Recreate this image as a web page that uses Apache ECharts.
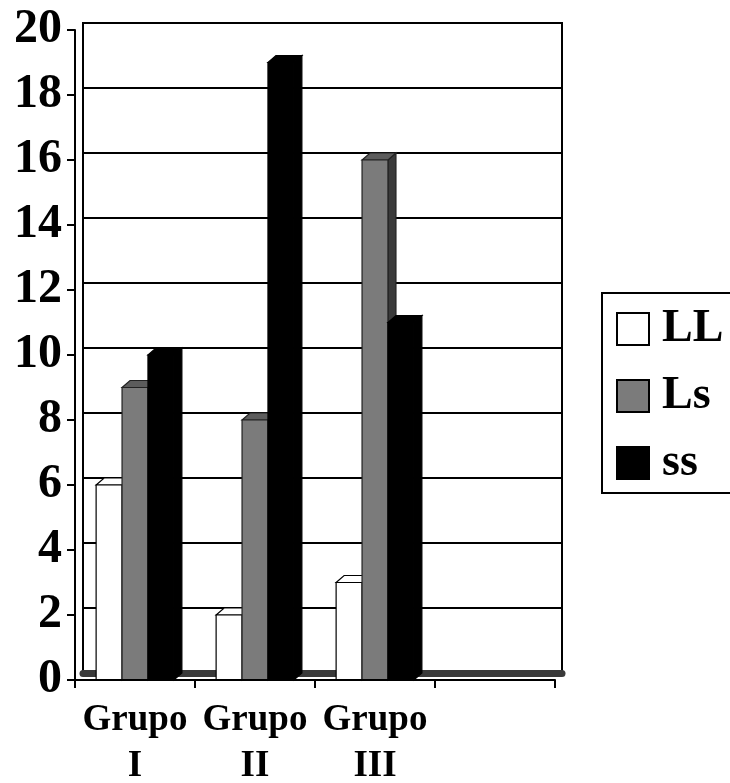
<!DOCTYPE html>
<html>
<head>
<meta charset="utf-8">
<style>
  html, body { margin: 0; padding: 0; background: #fff; }
  #chart { width: 730px; height: 783px; }
</style>
<script src="https://cdn.jsdelivr.net/npm/echarts@6/dist/echarts.min.js"></script>
</head>
<body>
<div id="chart"></div>
<script>
const categories = ['Grupo\nI', 'Grupo\nII', 'Grupo\nIII', ''];
const seriesNames = ['LL', 'Ls', 'ss'];
const valuesLL = [6, 2, 3, 0];
const valuesLs = [9, 8, 16, 0];
const valuesSs = [10, 19, 11, 0];
const yTicks = [0, 2, 4, 6, 8, 10, 12, 14, 16, 18, 20];

const FONT = 'Liberation Serif';
const DX = 8, DY = 7;

// face colours: front, top, side, stroke
const looks = [
  { front: '#ffffff', top: '#ffffff', side: '#ffffff', stroke: '#000' },
  { front: '#7b7b7b', top: '#5c5c5c', side: '#3a3a3a', stroke: '#222' },
  { front: '#000000', top: '#000000', side: '#000000', stroke: '#000' }
];

function makeBars(name, values, idx) {
  const look = looks[idx];
  return {
    name: name,
    type: 'custom',
    xAxisIndex: 0,
    yAxisIndex: 0,
    itemStyle: { color: look.front, borderColor: look.stroke },
    encode: { x: 0, y: 1 },
    data: values.map((v, i) => [i, v]),
    renderItem: function (params, api) {
      const v = api.value(1);
      if (!v) return;
      const base = api.coord([api.value(0), 0]);
      const topPt = api.coord([api.value(0), v]);
      const bw = api.size([1, 0])[0] * 0.216;
      const x0 = base[0] - 1.5 * bw + idx * bw;
      const x1 = x0 + bw;
      const yT = topPt[1], yB = base[1];
      const st = { stroke: look.stroke, lineWidth: 1.2 };
      return {
        type: 'group',
        children: [
          { type: 'polygon', shape: { points: [[x1, yT], [x1 + DX, yT - DY], [x1 + DX, yB - DY], [x1, yB]] },
            style: Object.assign({ fill: look.side }, st) },
          { type: 'polygon', shape: { points: [[x0, yT], [x0 + DX, yT - DY], [x1 + DX, yT - DY], [x1, yT]] },
            style: Object.assign({ fill: look.top }, st) },
          { type: 'rect', shape: { x: x0, y: yT, width: bw, height: yB - yT },
            style: Object.assign({ fill: look.front }, st) }
        ]
      };
    }
  };
}

const chart = echarts.init(document.getElementById('chart'));
chart.setOption({
  animation: false,
  backgroundColor: '#fff',
  grid: [
    { left: 75, right: 175, top: 30, bottom: 103, outerBoundsMode: 'none' },
    { left: 83, right: 168, top: 23, bottom: 110, outerBoundsMode: 'none', show: true, borderColor: '#000', borderWidth: 2, backgroundColor: 'transparent' }
  ],
  xAxis: [
    {
      type: 'category', gridIndex: 0, data: categories, z: 5,
      axisLine: { lineStyle: { color: '#000', width: 2 } },
      axisTick: { show: true, length: 8, lineStyle: { color: '#000', width: 2 } },
      axisLabel: { color: '#000', fontFamily: FONT, fontWeight: 'bold', fontSize: 37, lineHeight: 46, margin: 17, interval: 0 }
    },
    {
      type: 'category', gridIndex: 1, data: categories,
      axisLine: { show: true, lineStyle: { color: '#3a3a3a', width: 7 } },
      axisTick: { show: false }, axisLabel: { show: false }
    }
  ],
  yAxis: [
    {
      type: 'value', gridIndex: 0, min: 0, max: 20, interval: 2, z: 5,
      axisLine: { show: true, lineStyle: { color: '#000', width: 2 } },
      axisTick: { show: true, length: 8, lineStyle: { color: '#000', width: 2 } },
      splitLine: { show: false },
      axisLabel: { color: '#000', fontFamily: FONT, fontWeight: 'bold', fontSize: 48, margin: 13,
        padding: [9, 0, 0, 0], customValues: yTicks }
    },
    {
      type: 'value', gridIndex: 1, min: 0, max: 20, interval: 2,
      axisLine: { show: true, lineStyle: { color: '#000', width: 2 } },
      axisTick: { show: false }, axisLabel: { show: false },
      splitLine: { show: true, lineStyle: { color: '#000', width: 2 } }
    }
  ],
  legend: {
    orient: 'vertical', left: 602, top: 293,
    padding: [13, 60, 7, 14],
    borderColor: '#000', borderWidth: 2,
    itemWidth: 32, itemHeight: 32, itemGap: 21,
    data: seriesNames.map((n, i) => ({
      name: n, icon: 'rect',
      itemStyle: { color: looks[i].front, borderColor: '#000', borderWidth: 2 }
    })),
    textStyle: { color: '#000', fontFamily: FONT, fontWeight: 'bold', fontSize: 46, lineHeight: 46, padding: [0, 0, 0, 8] }
  },
  series: [
    makeBars(seriesNames[0], valuesLL, 0),
    makeBars(seriesNames[1], valuesLs, 1),
    makeBars(seriesNames[2], valuesSs, 2)
  ]
});
</script>
</body>
</html>
